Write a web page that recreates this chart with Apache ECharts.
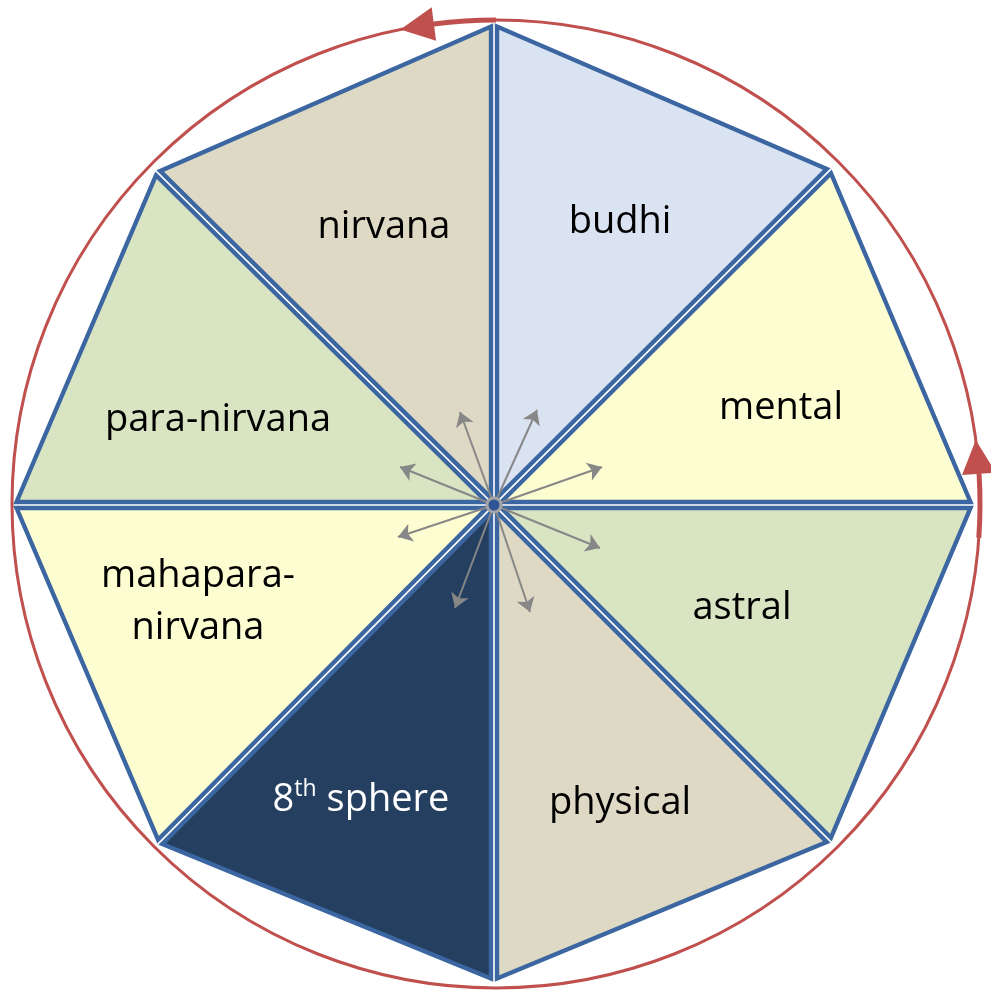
<!DOCTYPE html>
<html>
<head>
<meta charset="utf-8">
<title>spheres</title>
<script src="https://cdn.jsdelivr.net/npm/echarts@6/dist/echarts.min.js"></script>
<style>
  html, body { margin: 0; padding: 0; background: #fff; }
  #chart { width: 991px; height: 993px; }
</style>
</head>
<body>
<div id="chart"></div>
<script>
// chart units are laid out 1:1 on the canvas (x right, y down)
const hub = [494, 505]
// outer corners of the octagon, clockwise from the top
const corners = [[494, 22], [832, 168], [975, 505], [832, 843], [494, 983], [157, 845], [12, 505], [155, 170]]
const sectorNames = ['budhi', 'mental', 'astral', 'physical', '8th sphere', 'mahapara-\nnirvana', 'para-nirvana', 'nirvana']
const labelSpots = [[620, 222], [781, 408], [742, 608], [620, 803], [361, 800], [198, 602], [218, 420], [384, 227]]
// grey arrows fanning out of the hub
const rayTips = [[460, 412], [537, 410], [602, 467], [600, 548], [530, 612], [455, 608], [398, 537], [400, 467]]
// red ring and its two turning arrows (degrees, counter-clockwise from east)
const ringCenter = [496, 504]
const ringRadius = 484
const turnArrows = [[90, 101.4], [-4, 7.6]]

// 配色
const sectorFill = ['#dae3f1', '#fdfdd2', '#d8e4c2', '#ddd9c4', '#243f60', '#fdfdd2', '#d8e4c2', '#ddd9c4']
const edgeBlue = '#3b66a1'
const ringRed = '#c0504d'

const chart = echarts.init(document.getElementById('chart'))

// 把三角形往内心收一点，相邻两块之间留出一道细缝
function shrink(pts, d) {
  const [A, B, C] = pts
  const len = (p, q) => Math.hypot(p[0] - q[0], p[1] - q[1])
  const a = len(B, C), b = len(C, A), c = len(A, B)
  const s = a + b + c
  const I = [(a * A[0] + b * B[0] + c * C[0]) / s, (a * A[1] + b * B[1] + c * C[1]) / s]
  const area = Math.abs((B[0] - A[0]) * (C[1] - A[1]) - (C[0] - A[0]) * (B[1] - A[1])) / 2
  const r = 2 * area / s
  const k = (r - d) / r
  return pts.map(p => [I[0] + k * (p[0] - I[0]), I[1] + k * (p[1] - I[1])])
}

function renderSector(params, api) {
  const i = api.value(2)
  const pts = [api.coord(hub), api.coord(corners[i]), api.coord(corners[(i + 1) % corners.length])]
  return {
    type: 'polygon',
    shape: { points: shrink(pts, 3) },
    style: { fill: sectorFill[i], stroke: edgeBlue, lineWidth: 4.4, lineJoin: 'miter' }
  }
}

function renderRing(params, api) {
  const c = api.coord(ringCenter)
  const r = api.size([ringRadius, 0])[0]
  const children = [{
    type: 'circle',
    shape: { cx: c[0], cy: c[1], r: r },
    style: { fill: 'none', stroke: ringRed, lineWidth: 3 }
  }]
  const headLen = 34, headHalf = 17
  turnArrows.forEach(([from, tip]) => {
    const tipRad = tip * Math.PI / 180
    const baseRad = tipRad - headLen / r
    const fromRad = from * Math.PI / 180
    // canvas angles run clockwise
    children.push({
      type: 'arc',
      shape: { cx: c[0], cy: c[1], r: r, startAngle: -baseRad, endAngle: -fromRad, clockwise: true },
      style: { fill: 'none', stroke: ringRed, lineWidth: 5 }
    })
    const T = [c[0] + r * Math.cos(tipRad), c[1] - r * Math.sin(tipRad)]
    const n = [Math.cos(baseRad), -Math.sin(baseRad)]
    const Bc = [c[0] + r * n[0], c[1] + r * n[1]]
    children.push({
      type: 'polygon',
      shape: { points: [T, [Bc[0] + headHalf * n[0], Bc[1] + headHalf * n[1]], [Bc[0] - headHalf * n[0], Bc[1] - headHalf * n[1]]] },
      style: { fill: ringRed }
    })
  })
  return { type: 'group', children: children }
}

const option = {
  backgroundColor: '#ffffff',
  animation: false,
  grid: { left: 0, right: 0, top: 0, bottom: 0 },
  xAxis: { type: 'value', min: 0, max: 991, show: false },
  yAxis: { type: 'value', min: 0, max: 993, inverse: true, show: false },
  series: [
    {
      type: 'custom',
      renderItem: renderRing,
      data: [[ringCenter[0], ringCenter[1]]],
      z: 1
    },
    {
      type: 'custom',
      renderItem: renderSector,
      data: sectorNames.map((n, i) => [corners[i][0], corners[i][1], i]),
      z: 2
    },
    {
      type: 'lines',
      coordinateSystem: 'cartesian2d',
      symbol: ['none', 'arrow'],
      symbolSize: 14,
      lineStyle: { color: '#878787', width: 2, opacity: 1 },
      data: rayTips.map(t => ({ coords: [hub, t] })),
      z: 3
    },
    {
      type: 'scatter',
      symbol: 'circle',
      symbolSize: 14,
      itemStyle: { color: '#2e5596', borderColor: '#a3a3a3', borderWidth: 3, opacity: 1 },
      data: [hub],
      z: 4
    },
    {
      type: 'scatter',
      symbolSize: 0,
      z: 5,
      itemStyle: { opacity: 1 },
      label: {
        show: true,
        position: 'inside',
        fontFamily: 'Open Sans',
        fontSize: 38,
        lineHeight: 52,
        color: '#000000',
        formatter: p => p.name === '8th sphere' ? '{n|8}{sup|th}{n| sphere}' : p.name,
        rich: {
          n: { fontFamily: 'Open Sans', fontSize: 38, color: '#ffffff' },
          sup: { fontFamily: 'Open Sans', fontSize: 23, color: '#ffffff', padding: [0, 0, 22, 0] }
        }
      },
      data: sectorNames.map((n, i) => ({ name: n, value: labelSpots[i] }))
    }
  ]
}

chart.setOption(option)
</script>
</body>
</html>
